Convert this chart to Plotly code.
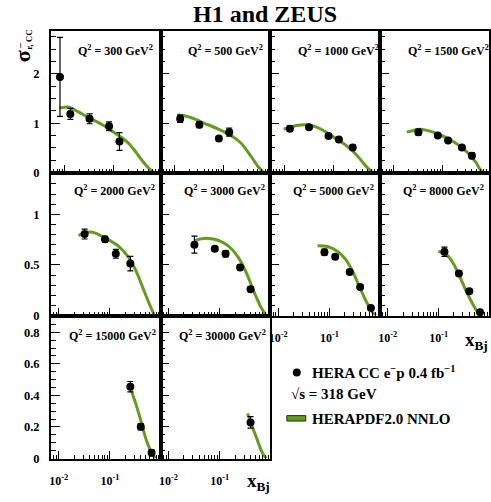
import plotly.graph_objects as go

W, H = 491, 502
FONT = "Liberation Serif, Times New Roman, serif"

# ---------------- data ----------------
q2_values = ["300", "500", "1000", "1500", "2000", "3000", "5000", "8000", "15000", "30000"]

# HERA CC e-p data points: x, sigma_r, total error
x_300 = [0.008, 0.013, 0.032, 0.08, 0.13]
y_300 = [1.94, 1.19, 1.09, 0.94, 0.63]
e_300 = [0.80, 0.11, 0.10, 0.09, 0.18]

x_500 = [0.013, 0.032, 0.08, 0.13]
y_500 = [1.09, 0.97, 0.69, 0.82]
e_500 = [0.075, 0.06, 0.03, 0.08]

x_1000 = [0.013, 0.032, 0.08, 0.13, 0.25]
y_1000 = [0.89, 0.92, 0.74, 0.67, 0.51]
e_1000 = [0.055, 0.035, 0.03, 0.03, 0.05]

x_1500 = [0.032, 0.08, 0.13, 0.25, 0.4]
y_1500 = [0.82, 0.75, 0.65, 0.51, 0.34]
e_1500 = [0.06, 0.03, 0.03, 0.03, 0.06]

x_2000 = [0.032, 0.08, 0.13, 0.25]
y_2000 = [0.805, 0.753, 0.61, 0.513]
e_2000 = [0.049, 0.028, 0.044, 0.071]

x_3000 = [0.032, 0.08, 0.13, 0.25, 0.4]
y_3000 = [0.70, 0.66, 0.61, 0.475, 0.26]
e_3000 = [0.084, 0.02, 0.03, 0.025, 0.025]

x_5000 = [0.08, 0.13, 0.25, 0.4, 0.65]
y_5000 = [0.626, 0.581, 0.431, 0.282, 0.075]
e_5000 = [0.03, 0.02, 0.02, 0.02, 0.02]

x_8000 = [0.13, 0.25, 0.4, 0.65]
y_8000 = [0.63, 0.416, 0.24, 0.032]
e_8000 = [0.045, 0.02, 0.02, 0.015]

x_15000 = [0.25, 0.4, 0.65]
y_15000 = [0.455, 0.202, 0.036]
e_15000 = [0.033, 0.02, 0.02]

x_30000 = [0.4]
y_30000 = [0.229]
e_30000 = [0.036]

# HERAPDF2.0 NNLO prediction curves (points read along the band)
cx_300 = [0.0078, 0.0119, 0.019, 0.0326, 0.0562, 0.0897, 0.143, 0.211, 0.288, 0.394, 0.537, 0.647]
cy_300 = [1.31, 1.33, 1.23, 1.10, 0.98, 0.85, 0.71, 0.57, 0.40, 0.22, 0.07, 0.0]

cx_500 = [0.0114, 0.016, 0.0255, 0.0406, 0.0759, 0.141, 0.225, 0.36, 0.492, 0.65]
cy_500 = [1.167, 1.153, 1.087, 1.0, 0.887, 0.753, 0.6, 0.333, 0.133, 0.0]

cx_1000 = [0.0097, 0.0167, 0.0288, 0.046, 0.0735, 0.117, 0.141, 0.218, 0.302, 0.406, 0.506, 0.646]
cy_1000 = [0.88, 0.95, 0.97, 0.92, 0.81, 0.68, 0.63, 0.49, 0.35, 0.2, 0.09, 0.0]

cx_1500 = [0.0185, 0.0345, 0.055, 0.0877, 0.163, 0.305, 0.389, 0.488, 0.575, 0.664]
cy_1500 = [0.82, 0.88, 0.84, 0.767, 0.633, 0.433, 0.32, 0.2, 0.08, 0.0]

cx_2000 = [0.0243, 0.0318, 0.043, 0.058, 0.0843, 0.1426, 0.2234, 0.3243, 0.4375, 0.5888, 0.74]
cy_2000 = [0.789, 0.818, 0.825, 0.805, 0.762, 0.691, 0.584, 0.438, 0.276, 0.114, 0.0]

cx_3000 = [0.0321, 0.0434, 0.0586, 0.0789, 0.1064, 0.1439, 0.1936, 0.2612, 0.3532, 0.4742, 0.6412, 0.8017]
cy_3000 = [0.74, 0.757, 0.762, 0.753, 0.73, 0.691, 0.626, 0.529, 0.39, 0.227, 0.081, 0.0]

cx_5000 = [0.0586, 0.092, 0.1445, 0.21, 0.2838, 0.382, 0.5176, 0.6998, 0.8128]
cy_5000 = [0.688, 0.682, 0.633, 0.552, 0.438, 0.292, 0.146, 0.032, 0.0]

cx_8000 = [0.0986, 0.1426, 0.1919, 0.257, 0.3467, 0.4677, 0.5861, 0.6792]
cy_8000 = [0.633, 0.6, 0.519, 0.39, 0.243, 0.114, 0.032, 0.0]

cx_15000 = [0.2624, 0.3141, 0.3936, 0.492, 0.6166, 0.7709]
cy_15000 = [0.43, 0.354, 0.25, 0.135, 0.052, 0.0]

cx_30000 = [0.3491, 0.4246, 0.5309, 0.6653, 0.8072]
cy_30000 = [0.285, 0.208, 0.125, 0.042, 0.0]

x_tick_vals = [0.01, 0.1]
x_tick_text = ["10<sup>-2</sup>", "10<sup>-1</sup>"]
y_tick_vals_rows = [[0, 1, 2], [0, 0.5, 1], [0, 0.2, 0.4, 0.6, 0.8]]
y_tick_text_rows = [["0", "1", "2"], ["0", "0.5", "1"], ["0", "0.2", "0.4", "0.6", "0.8"]]

legend_data = "HERA CC e<sup>\u2212</sup>p 0.4 fb<sup>\u22121</sup>"
legend_sqrt = "\u221As = 318 GeV"
legend_pdf = "HERAPDF2.0 NNLO"

# ---------------- layout geometry ----------------
panels = [
    (x_300, y_300, e_300, cx_300, cy_300),
    (x_500, y_500, e_500, cx_500, cy_500),
    (x_1000, y_1000, e_1000, cx_1000, cy_1000),
    (x_1500, y_1500, e_1500, cx_1500, cy_1500),
    (x_2000, y_2000, e_2000, cx_2000, cy_2000),
    (x_3000, y_3000, e_3000, cx_3000, cy_3000),
    (x_5000, y_5000, e_5000, cx_5000, cy_5000),
    (x_8000, y_8000, e_8000, cx_8000, cy_8000),
    (x_15000, y_15000, e_15000, cx_15000, cy_15000),
    (x_30000, y_30000, e_30000, cx_30000, cy_30000),
]

col_edges = [49, 159.3, 269.5, 379.5, 489]
row_edges = [31, 175, 320, 465]
y_ranges = [[0, 2.88], [0, 1.412], [0, 0.906]]
y_minor = [0.25, 0.1, 0.05]
x_ranges = [[-2.284, -0.047], [-2.155, -0.01], [-2.155, -0.01]]
label_dx = [25.7, 21.0, 16.0]
label_dy = [50.8, 193.3, 340.7]

minor_x = [m * 10.0 ** e for e in (-3, -2, -1) for m in range(2, 10)]

def px(x):
    return x / W

def py(y):
    return 1 - y / H

CURVE = "#639c1f"
fig = go.Figure()
layout = dict(
    width=W, height=H, autosize=False,
    margin=dict(l=0, r=0, t=0, b=0),
    paper_bgcolor="white", plot_bgcolor="white",
    showlegend=False,
    font=dict(family=FONT, color="black", size=12, weight="bold"),
)
annotations = []
shapes = []

for i, (dx, dy, de, cx, cy) in enumerate(panels):
    if i < 8:
        r, c = divmod(i, 4)
    else:
        r, c = 2, i - 8
    n = "" if i == 0 else str(i + 1)
    xa, ya = "x" + n, "y" + n
    fig.add_trace(go.Scatter(
        x=cx, y=cy, mode="lines", xaxis=xa, yaxis=ya,
        line=dict(color=CURVE, width=3.0, shape="spline", smoothing=0.7),
        hoverinfo="skip"))
    fig.add_trace(go.Scatter(
        x=dx, y=dy, mode="markers", xaxis=xa, yaxis=ya, cliponaxis=False,
        marker=dict(color="black", size=8),
        error_y=dict(type="data", array=de, color="black", thickness=1.2, width=3)))

    show_x_labels = i >= 6
    layout["xaxis" + n] = dict(
        domain=[px(col_edges[c]), px(col_edges[c + 1])],
        anchor=ya, type="log", range=x_ranges[r],
        showline=True, mirror=True, linecolor="black", linewidth=1.5,
        showgrid=False, zeroline=False,
        ticks="inside", ticklen=8, tickwidth=1, tickcolor="black",
        tickvals=x_tick_vals, ticktext=x_tick_text,
        showticklabels=show_x_labels,
        tickfont=dict(family=FONT, size=12, color="black", weight="bold"),
        ticklabelstandoff=10,
        minor=dict(ticks="inside", ticklen=4, tickwidth=1, tickcolor="black",
                   tickmode="array", tickvals=minor_x, showgrid=False),
    )
    layout["yaxis" + n] = dict(
        domain=[py(row_edges[r + 1]), py(row_edges[r])],
        anchor=xa, range=y_ranges[r],
        showline=True, mirror=True, linecolor="black", linewidth=1.5,
        showgrid=False, zeroline=False,
        ticks="inside", ticklen=9, tickwidth=1, tickcolor="black",
        tickvals=y_tick_vals_rows[r], ticktext=y_tick_text_rows[r],
        showticklabels=(c == 0),
        tickfont=dict(family=FONT, size=12.5, color="black", weight="bold"),
        ticklabelstandoff=7,
        minor=dict(ticks="inside", ticklen=5, tickwidth=1, tickcolor="black",
                   dtick=y_minor[r], tick0=0, showgrid=False),
    )
    annotations.append(dict(
        text="Q<sup>2</sup> = %s GeV<sup>2</sup>" % q2_values[i],
        xref="paper", yref="paper",
        x=px(col_edges[c] + label_dx[r]), y=py(label_dy[r]),
        xanchor="left", yanchor="middle", showarrow=False,
        font=dict(family=FONT, size=12, color="black", weight="bold")))

# title
annotations.append(dict(text="H1 and ZEUS", xref="paper", yref="paper",
                        x=px(264.5), y=py(14), xanchor="center", yanchor="middle",
                        showarrow=False,
                        font=dict(family=FONT, size=24, color="black", weight="bold")))
# y-axis title pieces (rotated)
annotations.append(dict(text="\u03c3", xref="paper", yref="paper", x=px(20.5), y=py(56.5),
                        xanchor="center", yanchor="middle", showarrow=False, textangle=-90,
                        font=dict(family=FONT, size=22, color="black", weight="bold")))
annotations.append(dict(text="r, CC", xref="paper", yref="paper", x=px(27.5), y=py(40),
                        xanchor="center", yanchor="middle", showarrow=False, textangle=-90,
                        font=dict(family=FONT, size=9, color="black", weight="bold")))
annotations.append(dict(text="\u2212", xref="paper", yref="paper", x=px(18.5), y=py(45.5),
                        xanchor="center", yanchor="middle", showarrow=False, textangle=-90,
                        font=dict(family=FONT, size=10, color="black", weight="bold")))
# x-axis titles
for (xr, yc) in [(490, 346), (271, 489)]:
    annotations.append(dict(text="x<sub>Bj</sub>", xref="paper", yref="paper",
                            x=px(xr), y=py(yc), xanchor="right", yanchor="middle",
                            showarrow=False,
                            font=dict(family=FONT, size=19, color="black", weight="bold")))
# legend
annotations.append(dict(text=legend_data, xref="paper", yref="paper", x=px(309), y=py(377),
                        xanchor="left", yanchor="middle", showarrow=False,
                        font=dict(family=FONT, size=15, color="black", weight="bold")))
annotations.append(dict(text=legend_sqrt, xref="paper", yref="paper", x=px(288), y=py(400),
                        xanchor="left", yanchor="middle", showarrow=False,
                        font=dict(family=FONT, size=15, color="black", weight="bold")))
annotations.append(dict(text=legend_pdf, xref="paper", yref="paper", x=px(309), y=py(424.5),
                        xanchor="left", yanchor="middle", showarrow=False,
                        font=dict(family=FONT, size=15, color="black", weight="bold")))
shapes.append(dict(type="circle", xref="paper", yref="paper",
                   x0=px(292), x1=px(300), y0=py(381.7), y1=py(373.7),
                   fillcolor="black", line=dict(color="black", width=0)))
shapes.append(dict(type="rect", xref="paper", yref="paper",
                   x0=px(286), x1=px(305), y0=py(427), y1=py(421.5),
                   fillcolor=CURVE, line=dict(color="#1f3306", width=1)))

layout["annotations"] = annotations
layout["shapes"] = shapes
fig.update_layout(**layout)

fig.write_html("out.html",
               config={"displayModeBar": False},
               post_script="document.body.style.margin='0';document.body.style.padding='0';document.body.style.overflow='hidden';")
